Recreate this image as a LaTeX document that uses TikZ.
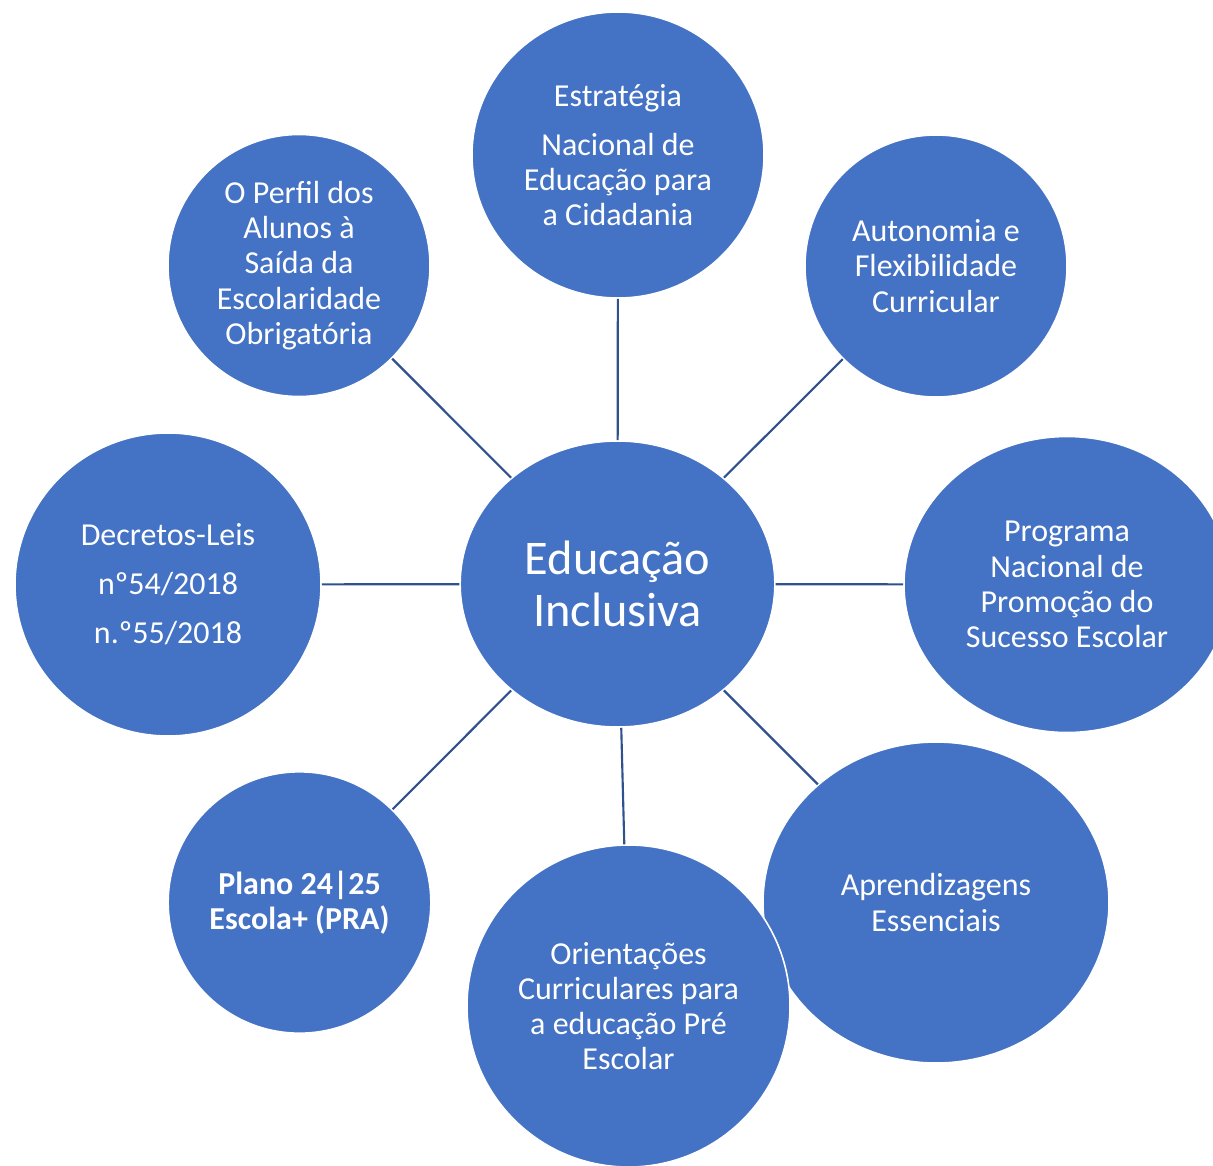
\documentclass[tikz,border=0pt]{standalone}
\usepackage{fontspec}
\setmainfont{Carlito}
\usepackage{tikz}
\usetikzlibrary{positioning,calc}
\usetikzlibrary{shapes}
\definecolor{bubblefill}{HTML}{4472C4}
\definecolor{spokeblue}{HTML}{2F528F}
\tikzstyle{bubble} = [ellipse,inner sep=0pt,align=center,fill=bubblefill,draw=white,line width=1.2pt,text=white,font=\fontsize{24pt}{26.4pt}\selectfont]
\tikzstyle{hub} = [bubble,font=\fontsize{36.25pt}{39pt}\selectfont]
\tikzstyle{line} = [draw=spokeblue,line width=1.6pt]

\begin{document}
\begin{tikzpicture}[x=0.75pt,y=-0.75pt]
        \useasboundingbox (0,0) rectangle (1213,1165);
        \clip (0,0) rectangle (1213,1165);
        \node[hub,minimum width=236pt,minimum height=214.5pt] (ei) at (617.5,584) {Educação\\Inclusiva};
        \path[line] (ei) ++(0.5,-429) node[bubble,minimum width=219pt,minimum height=214.5pt] (enec) {Estratégia\\[10.3pt]Nacional de\\Educação para\\a Cidadania}
        (ei) edge (enec);
        \path[line] (ei) ++(318.5,-318) node[bubble,minimum width=196.5pt,minimum height=196.5pt] (afc) {Autonomia e\\Flexibilidade\\Curricular}
        (ei) edge (afc);
        \path[line] (ei) ++(449.5,0.5) node[bubble,minimum width=244.5pt,minimum height=222pt] (pnpse) {Programa\\Nacional de\\Promoção do\\Sucesso Escolar}
        (ei) edge (pnpse);
        \path[line] (ei) ++(318.5,318.5) node[bubble,minimum width=259.5pt,minimum height=240.75pt] (ae) {Aprendizagens\\Essenciais}
        (ei) edge (ae);
        \path[line] (ei) ++(11,422) node[bubble,minimum width=242.25pt,minimum height=241.5pt] (ocepe) {Orientações\\Curriculares para\\a educação Pré\\Escolar}
        (ei) edge (ocepe);
        \path[line] (ei) ++(-318,318.5) node[bubble,minimum width=197pt,minimum height=196pt] (plano) {\textbf{Plano 24|25}\\\textbf{Escola+ (PRA)}}
        (ei) edge (plano);
        \path[line] (ei) ++(-449.5,0.5) node[bubble,minimum width=229.5pt,minimum height=227.25pt] (dl) {Decretos-Leis\\[10.3pt]nº54/2018\\[10.3pt]n.º55/2018}
        (ei) edge (dl);
        \path[line] (ei) ++(-318.5,-318.5) node[bubble,minimum width=196.5pt,minimum height=196.5pt] (perfil) {O Perfil dos\\Alunos à\\Saída da\\Escolaridade\\Obrigatória}
        (ei) edge (perfil);
\end{tikzpicture}
\end{document}
